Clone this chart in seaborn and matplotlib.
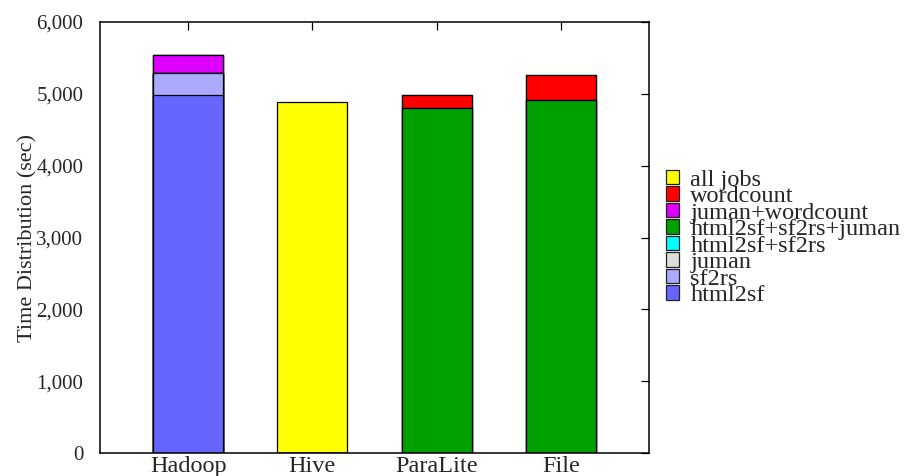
import matplotlib
matplotlib.use("Agg")
import matplotlib.pyplot as plt
from matplotlib.patches import Patch
from matplotlib.ticker import FuncFormatter, MultipleLocator
import numpy as np
import pandas as pd
import seaborn as sns

# Systems compared
systems = ["Hadoop", "Hive", "ParaLite", "File"]

# Job phases, listed bottom-up in the stack
phases = ["html2sf", "sf2rs", "juman", "html2sf+sf2rs",
          "html2sf+sf2rs+juman", "juman+wordcount", "wordcount", "all jobs"]

# Time spent in each phase (sec), per system
html2sf = [4980, 0, 0, 0]
sf2rs = [305, 0, 0, 0]
juman = [0, 0, 0, 0]
html2sf_sf2rs = [0, 0, 0, 0]
html2sf_sf2rs_juman = [0, 0, 4800, 4910]
juman_wordcount = [260, 0, 0, 0]
wordcount = [0, 0, 180, 350]
all_jobs = [0, 4885, 0, 0]

phase_values = [html2sf, sf2rs, juman, html2sf_sf2rs,
                html2sf_sf2rs_juman, juman_wordcount, wordcount, all_jobs]

phase_colors = ["#6666FF", "#AAAAFF", "#DDDDDD", "#00FFFF",
                "#00A000", "#DD00FF", "#FF0000", "#FFFF00"]

sns.set_theme(style="white")
plt.rcParams["font.family"] = ["Liberation Serif", "DejaVu Serif"]

fig = plt.figure(figsize=(9.08, 4.76), dpi=100)
ax = fig.add_axes([100 / 908, 1 - 453 / 476, 549 / 908, 431 / 476])

# Cumulative tops for the stacked layers
tops = np.cumsum(np.array(phase_values, dtype=float), axis=0)

# Draw from the highest layer down so lower layers sit on top
for i in range(len(phases) - 1, -1, -1):
    df = pd.DataFrame({"system": systems, "time": tops[i]})
    sns.barplot(data=df, x="system", y="time", order=systems,
                color=phase_colors[i], saturation=1, width=0.565,
                edgecolor="black", linewidth=0.9, ax=ax)

ax.set_xlim(-0.71, 3.71)
ax.set_ylim(0, 6000)
ax.yaxis.set_major_locator(MultipleLocator(1000))
ax.yaxis.set_major_formatter(FuncFormatter(lambda v, p: f"{int(v):,}"))
ax.set_xlabel("")
ax.set_ylabel("Time Distribution (sec)", fontsize=16)
ax.yaxis.set_label_coords(-0.113, 0.5)

for s in ax.spines.values():
    s.set_visible(True)
    s.set_color("black")
    s.set_linewidth(1.1)

ax.tick_params(axis="both", direction="in", length=6, width=0.9,
               color="black", top=True, right=True)
ax.tick_params(axis="y", pad=12, labelsize=15)
ax.tick_params(axis="x", pad=2, labelsize=17.5)

handles = [Patch(facecolor=c, edgecolor="#222222", linewidth=0.9)
           for c in phase_colors][::-1]
labels = phases[::-1]
fig.legend(handles, labels, loc="center left",
           bbox_to_anchor=(666 / 908, 1 - 238 / 476), frameon=False,
           fontsize=17.5, handlelength=0.55, handleheight=0.55,
           handletextpad=0.45, labelspacing=-0.185, borderpad=0,
           borderaxespad=0)

fig.savefig("out.png", dpi=100)
